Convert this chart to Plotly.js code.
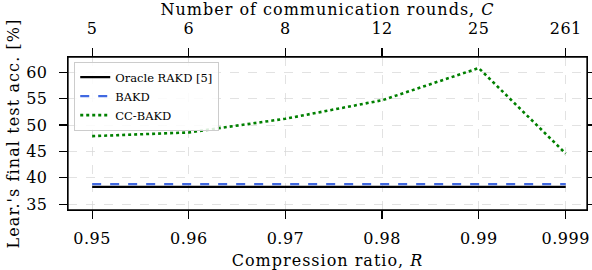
<!DOCTYPE html>
<html><head><meta charset="utf-8">
<script src="https://cdn.plot.ly/plotly-3.0.1.min.js"></script>
<style>
body{margin:0;background:#fff}#c{width:592px;height:270px}
#c .xtitle, #c .x2title {letter-spacing:1px}
#c .ytitle {letter-spacing:1.1px}
#c .xtick text, #c .x2tick text, #c .ytick text {letter-spacing:0.5px}
</style>
</head><body><div id="c"></div>
<script>
const ratios = [0.95, 0.96, 0.97, 0.98, 0.99, 0.999];
const ratioLabels = ['0.95', '0.96', '0.97', '0.98', '0.99', '0.999'];
const rounds = ['5', '6', '8', '12', '25', '261'];
const yTicks = [35, 40, 45, 50, 55, 60];
const oracle = [38.3, 38.3, 38.3, 38.3, 38.3, 38.3];
const bakd = [38.8, 38.8, 38.8, 38.8, 38.8, 38.8];
const ccbakd = [47.9, 48.6, 51.2, 54.7, 60.8, 44.6];

const F = 'DejaVu Serif, serif';
const traces = [
  {x: ratios, y: oracle, name: 'Oracle RAKD [5]', mode: 'lines', line: {color: '#000', width: 2.2}},
  {x: ratios, y: bakd, name: 'BAKD', mode: 'lines', line: {color: '#4169e1', width: 2.2, dash: 'dash'}},
  {x: ratios, y: ccbakd, name: 'CC-BAKD', mode: 'lines', line: {color: '#008000', width: 2.6, dash: 'dot'}},
  {x: ratios, y: ccbakd, xaxis: 'x2', mode: 'lines', line: {width: 0}, opacity: 0, showlegend: false, hoverinfo: 'skip'}
];
const common = {
  range: [0.9475, 1.0012], showline: true, linecolor: '#000', linewidth: 1.3, mirror: true,
  ticks: 'outside', ticklen: 8, tickwidth: 1.3, tickcolor: '#000',
  showgrid: true, gridcolor: '#d6d6d6', griddash: 'dash', gridwidth: 0.7, zeroline: false,
  tickfont: {family: F, size: 16, color: '#000'}, tickvals: ratios
};
const layout = {
  width: 592, height: 270,
  margin: {l: 68, r: 5, t: 57, b: 60},
  paper_bgcolor: '#fff', plot_bgcolor: '#fff',
  font: {family: F, color: '#000'},
  xaxis: Object.assign({}, common, {ticktext: ratioLabels, side: 'bottom', ticklabelstandoff: 5,
    title: {text: 'Compression ratio, <i>R</i>', font: {family: F, size: 16}, standoff: 10}}),
  xaxis2: Object.assign({}, common, {ticktext: rounds, side: 'top', overlaying: 'x', anchor: 'y', showgrid: false, ticklabelstandoff: 7,
    title: {text: 'Number of communication rounds, <i>C</i>', font: {family: F, size: 16}, standoff: 0}}),
  yaxis: {range: [33.9, 62.9], showline: true, linecolor: '#000', linewidth: 1.3, mirror: 'all',
    ticks: 'outside', ticklen: 8, tickwidth: 1.3, tickcolor: '#000', ticklabelstandoff: 8,
    tickvals: yTicks,
    showgrid: true, gridcolor: '#d6d6d6', griddash: 'dash', gridwidth: 0.7, zeroline: false,
    tickfont: {family: F, size: 16, color: '#000'},
    title: {text: "Lear.'s final test acc. [%]", font: {family: F, size: 16}, standoff: 3}},
  legend: {x: 0.012, y: 0.97, xanchor: 'left', yanchor: 'top', bgcolor: 'rgba(255,255,255,0.85)',
    bordercolor: '#cccccc', borderwidth: 1, font: {family: F, size: 11.5}, tracegroupgap: 0, itemwidth: 30},
  shapes: [{type: 'rect', xref: 'paper', yref: 'paper', x0: 0, x1: 1, y0: 0, y1: 1, line: {color: '#000', width: 1.3}, layer: 'above'}],
  showlegend: true
};
Plotly.newPlot('c', traces, layout, {staticPlot: true});
</script></body></html>
